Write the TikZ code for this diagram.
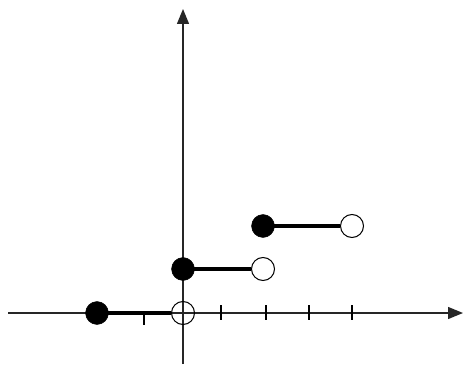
\documentclass[tikz,border=0pt]{standalone}
\usetikzlibrary{arrows.meta}
\begin{document}
\begin{tikzpicture}[x=1pt,y=1pt,
  axis/.style={line width=1.3pt,draw=black!85,-{Triangle[length=15pt,width=12pt]}},
  tickmark/.style={line width=1.1pt},
  closeddot/.style={circle,fill=black,draw=black,minimum size=23pt,inner sep=0pt},
  opendot/.style={circle,draw=black,line width=1pt,minimum size=23pt,inner sep=0pt},
  stepline/.style={line width=3.6pt}]
\useasboundingbox (0,0) rectangle (465,364);
% axes
\coordinate (xl) at (8,51);
\coordinate (xr) at (463,51);
\coordinate (yb) at (183,0);
\coordinate (yt) at (183,355);
\draw[axis] (xl) -- (xr);
\draw[axis] (yb) -- (yt);
% ticks
\draw[tickmark] (144,51) -- (144,39);
\foreach \tx in {221,266,309,352} \draw[tickmark] (\tx,59) -- (\tx,44);
% dots
\node[opendot] (o0) at (183,51) {};
\node[opendot,fill=white] (o1) at (263,95) {};
\node[opendot,fill=white] (o2) at (352,138) {};
\node[closeddot] (c0) at (97,51) {};
\node[closeddot] (c1) at (183,95) {};
\node[closeddot] (c2) at (263,138) {};
% steps
\draw[stepline] (c0.center) -- (o0.west);
\draw[stepline] (c1.center) -- (o1.west);
\draw[stepline] (c2.center) -- (o2.west);
\end{tikzpicture}
\end{document}
